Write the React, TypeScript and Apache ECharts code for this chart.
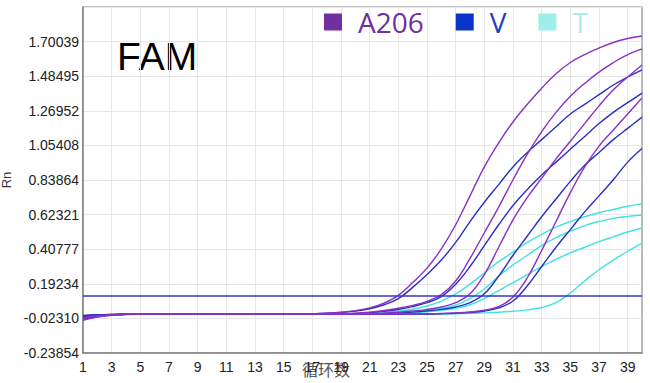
import React, { useEffect, useRef } from "react";
import * as echarts from "echarts";

const cycles = [1,2,3,4,5,6,7,8,9,10,11,12,13,14,15,16,17,18,19,20,21,22,23,24,25,26,27,28,29,30,31,32,33,34,35,36,37,38,39,40];

const yMin = -0.23854;
const yStep = 0.215437;
const yTickLabels = ["-0.23854","-0.02310","0.19234","0.40777","0.62321","0.83864","1.05408","1.26952","1.48495","1.70039"];
const threshold = 0.118;

const a206_1 = [-0.030,-0.012,-0.003,0.002,0.004,0.005,0.005,0.005,0.004,0.004, 0.004,0.003,0.003,0.003,0.003,0.004,0.006,0.009,0.015,0.025, 0.042,0.072,0.12,0.20,0.29,0.41,0.56,0.74,0.92,1.07, 1.20,1.31,1.41,1.50,1.57,1.62,1.66,1.695,1.72,1.735];
const a206_2 = [-0.035,-0.014,-0.004,0.001,0.003,0.004,0.004,0.004,0.004,0.003, 0.003,0.003,0.003,0.003,0.003,0.003,0.004,0.005,0.007,0.010, 0.016,0.026,0.040,0.058,0.083,0.125,0.21,0.35,0.51,0.67, 0.84,1.00,1.14,1.26,1.36,1.44,1.51,1.57,1.62,1.655];
const a206_3 = [-0.025,-0.010,-0.002,0.002,0.004,0.004,0.004,0.004,0.004,0.003, 0.003,0.003,0.003,0.003,0.003,0.003,0.003,0.003,0.004,0.005, 0.007,0.010,0.015,0.023,0.033,0.048,0.075,0.13,0.25,0.42, 0.59,0.73,0.85,0.97,1.08,1.19,1.30,1.40,1.48,1.555];
const a206_4 = [-0.018,-0.007,-0.001,0.002,0.004,0.004,0.004,0.004,0.004,0.003, 0.003,0.003,0.003,0.003,0.003,0.003,0.003,0.003,0.003,0.003, 0.003,0.003,0.004,0.004,0.005,0.007,0.011,0.017,0.028,0.050, 0.11,0.23,0.40,0.58,0.76,0.92,1.05,1.15,1.25,1.35];

const v_1 = [-0.020,-0.008,-0.001,0.003,0.004,0.004,0.004,0.004,0.004,0.003, 0.003,0.003,0.003,0.003,0.003,0.004,0.006,0.009,0.014,0.022, 0.037,0.062,0.10,0.17,0.25,0.34,0.45,0.58,0.70,0.81, 0.92,1.01,1.09,1.17,1.25,1.31,1.37,1.43,1.48,1.525];
const v_2 = [-0.012,-0.004,0.000,0.003,0.004,0.004,0.004,0.004,0.004,0.004, 0.003,0.003,0.003,0.003,0.003,0.003,0.004,0.005,0.006,0.008, 0.013,0.021,0.032,0.050,0.075,0.113,0.19,0.30,0.43,0.56, 0.68,0.78,0.87,0.95,1.03,1.11,1.19,1.26,1.32,1.38];
const v_3 = [-0.008,-0.002,0.001,0.003,0.004,0.004,0.004,0.004,0.003,0.003, 0.003,0.003,0.003,0.003,0.003,0.003,0.003,0.003,0.003,0.004, 0.006,0.008,0.011,0.016,0.023,0.033,0.048,0.075,0.13,0.24, 0.37,0.49,0.61,0.72,0.83,0.93,1.01,1.09,1.16,1.23];
const v_4 = [-0.004,0.000,0.002,0.003,0.004,0.004,0.004,0.003,0.003,0.003, 0.003,0.003,0.003,0.003,0.003,0.003,0.003,0.003,0.003,0.003, 0.003,0.003,0.003,0.004,0.004,0.006,0.009,0.014,0.023,0.042, 0.085,0.18,0.30,0.42,0.53,0.64,0.74,0.84,0.95,1.035];

const t_1 = [-0.015,-0.006,-0.001,0.002,0.004,0.004,0.004,0.004,0.004,0.003, 0.003,0.003,0.003,0.003,0.003,0.003,0.003,0.003,0.004,0.005, 0.008,0.013,0.021,0.034,0.054,0.085,0.13,0.19,0.26,0.33, 0.39,0.45,0.50,0.545,0.58,0.61,0.635,0.655,0.675,0.69];
const t_2 = [-0.010,-0.004,0.000,0.002,0.003,0.004,0.004,0.004,0.003,0.003, 0.003,0.003,0.003,0.003,0.003,0.003,0.003,0.003,0.003,0.003, 0.004,0.006,0.010,0.016,0.025,0.040,0.060,0.10,0.16,0.24, 0.31,0.37,0.43,0.48,0.52,0.555,0.58,0.60,0.612,0.621];
const t_3 = [-0.022,-0.009,-0.002,0.002,0.004,0.004,0.004,0.004,0.003,0.003, 0.003,0.003,0.003,0.003,0.003,0.003,0.003,0.003,0.003,0.003, 0.004,0.005,0.008,0.012,0.018,0.027,0.040,0.062,0.10,0.15, 0.20,0.25,0.30,0.345,0.385,0.42,0.455,0.485,0.515,0.54];
const t_4 = [-0.006,-0.002,0.001,0.003,0.003,0.003,0.003,0.003,0.003,0.003, 0.003,0.003,0.003,0.003,0.003,0.003,0.003,0.003,0.003,0.003, 0.003,0.003,0.003,0.003,0.003,0.004,0.006,0.008,0.011,0.015, 0.021,0.030,0.045,0.075,0.135,0.21,0.28,0.34,0.395,0.446];

const groups = [
  { name: "T", icon: "#9eeeea", line: "#3fe3e3", text: "#a6f0ec", curves: [t_1, t_2, t_3, t_4] },
  { name: "V", icon: "#0a34c8", line: "#2b30c4", text: "#1f3fc2", curves: [v_1, v_2, v_3, v_4] },
  { name: "A206", icon: "#7030a0", line: "#8a30c4", text: "#7030a0", curves: [a206_1, a206_2, a206_3, a206_4] },
];

export default function App() {
  const ref = useRef<HTMLDivElement>(null);
  useEffect(() => {
    if (!ref.current) return;
    const chart = echarts.init(ref.current, null, { renderer: "svg" });
    const series: any[] = [];
    groups.forEach((g) => {
      g.curves.forEach((c) => {
        series.push({
          name: g.name,
          type: "line",
          data: c,
          smooth: 0.4,
          showSymbol: false,
          symbol: "none",
          itemStyle: { color: g.icon },
          lineStyle: { color: g.line, width: 1.4 },
          z: 3,
        });
      });
    });
    series.push({
      name: "threshold",
      type: "line",
      data: [],
      markLine: {
        silent: true,
        symbol: "none",
        label: { show: false },
        lineStyle: { color: "#3434cf", width: 1.5, type: "solid" },
        data: [{ yAxis: threshold }],
      },
      z: 4,
    });
    chart.setOption({
      animation: false,
      backgroundColor: "#ffffff",
      grid: {
        left: 83,
        right: 8,
        top: 7,
        bottom: 30,
        containLabel: false,
        outerBoundsMode: "none",
        show: true,
        borderColor: "#8a8a8a",
        borderWidth: 1.2,
      },
      legend: {
        data: [
          { name: "A206", textStyle: { color: groups[2].text } },
          { name: "V", textStyle: { color: groups[1].text } },
          { name: "T", textStyle: { color: groups[0].text } },
        ],
        left: 324,
        top: 8,
        padding: 0,
        icon: "rect",
        itemWidth: 18,
        itemHeight: 17,
        itemGap: 32,
        selectedMode: false,
        textStyle: { fontSize: 28, fontFamily: "Open Sans", padding: [0, 0, 0, 11] },
      },
      graphic: [
        {
          type: "text",
          left: 117,
          top: 37,
          style: { text: "FAM", font: "39px 'Liberation Sans', Arial", fill: "#000" },
        },
        {
          type: "text",
          left: 302,
          top: 361,
          style: { text: "循环数", font: "16px 'Noto Sans CJK SC'", fill: "#555" },
        },
      ],
      xAxis: {
        type: "category",
        data: cycles,
        boundaryGap: false,
        axisLine: { onZero: false, lineStyle: { color: "#808080", width: 1.5 } },
        axisTick: { show: false },
        axisLabel: {
          interval: 1,
          fontSize: 14,
          color: "#222",
          margin: 7,
          fontFamily: "'Liberation Sans', Arial",
        },
        splitLine: { show: true, interval: 1, lineStyle: { color: "#e6e6e6", width: 1 } },
      },
      yAxis: {
        type: "value",
        min: yMin,
        max: yMin + 10 * yStep,
        interval: yStep,
        name: "Rn",
        nameLocation: "middle",
        nameRotate: 90,
        nameGap: 64,
        nameTextStyle: { fontSize: 13, color: "#333", fontFamily: "'Liberation Sans', Arial" },
        axisLine: { show: true, lineStyle: { color: "#808080", width: 1.5 } },
        axisTick: { show: false },
        axisLabel: {
          fontSize: 14,
          color: "#222",
          margin: 4,
          fontFamily: "'Liberation Sans', Arial",
          formatter: (v: number) => {
            const k = Math.round((v - yMin) / yStep);
            return yTickLabels[k] ?? "";
          },
        },
        splitLine: { show: true, lineStyle: { color: "#e6e6e6", width: 1 } },
      },
      series,
    });
    return () => chart.dispose();
  }, []);
  return (
    <div
      ref={ref}
      style={{ position: "fixed", left: 0, top: 0, width: 650, height: 383, background: "#fff" }}
    />
  );
}
